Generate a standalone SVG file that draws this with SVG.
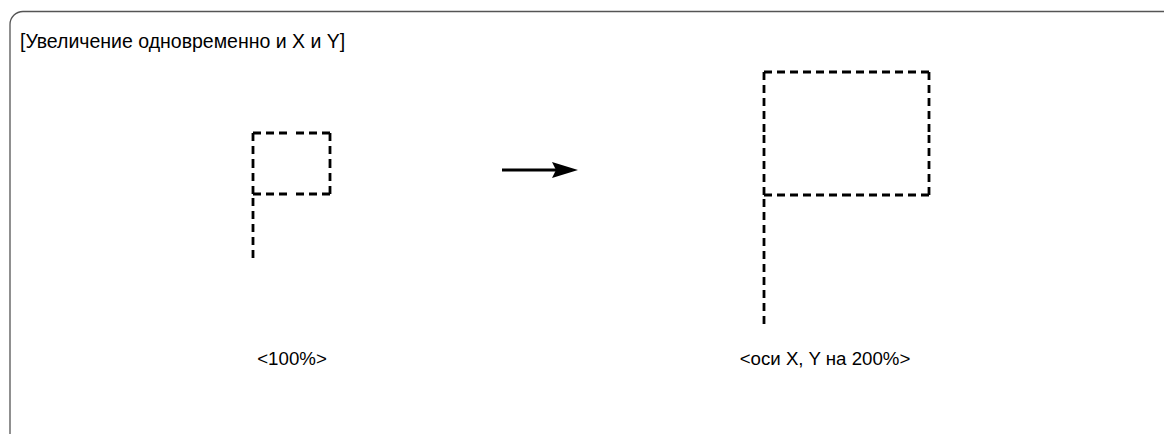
<svg xmlns="http://www.w3.org/2000/svg" width="1164" height="434" viewBox="0 0 1164 434">
<style>
.frame{fill:none;stroke:#555;stroke-width:1.3}
.dash{fill:none;stroke:#000;stroke-width:2.8;stroke-dasharray:8 5}
.lbl{font-family:"Liberation Sans",Arial,sans-serif;font-size:18.7px;fill:#000}
.title{font-size:19.5px}
.conn{stroke:#000;stroke-width:3;fill:none}
</style>
<defs>
<marker id="ah" markerUnits="userSpaceOnUse" markerWidth="27" markerHeight="17" refX="26" refY="8" orient="auto">
<path d="M0,0 L26,8 L0,16 L4,8 Z" fill="#000"/>
</marker>
</defs>
<rect class="frame" x="10" y="11.5" width="1180" height="450" rx="13" ry="13"/>
<text class="lbl title" x="20" y="47.5">[Увеличение одновременно и X и Y]</text>
<g id="flag-small">
<path class="dash" d="M253,133 L291.5,133 M330,133 L291.5,133 M330,133 L330,163.5 M330,194 L330,163.5 M330,194 L291.5,194 M253,194 L291.5,194 M253,194 L253,163.5 M253,133 L253,163.5"/>
<path class="dash" d="M253,198 L253,259"/>
</g>
<g id="flag-large">
<path class="dash" d="M764,72 L846.5,72 M929,72 L846.5,72 M929,72 L929,133.5 M929,195 L929,133.5 M929,195 L846.5,195 M764,195 L846.5,195 M764,195 L764,133.5 M764,72 L764,133.5"/>
<path class="dash" d="M764,199 L764,325"/>
</g>
<g id="label-small">
<text class="lbl" x="292" y="365" text-anchor="middle">&lt;100%&gt;</text>
</g>
<g id="label-large">
<text class="lbl" x="825" y="365" text-anchor="middle">&lt;оси X, Y на 200%&gt;</text>
</g>
<g id="connectors">
<line class="conn" x1="502" y1="170" x2="560" y2="170"/>
<path d="M552,162 L578,170 L552,178 L556,170 Z" fill="#000"/>
</g>
</svg>
